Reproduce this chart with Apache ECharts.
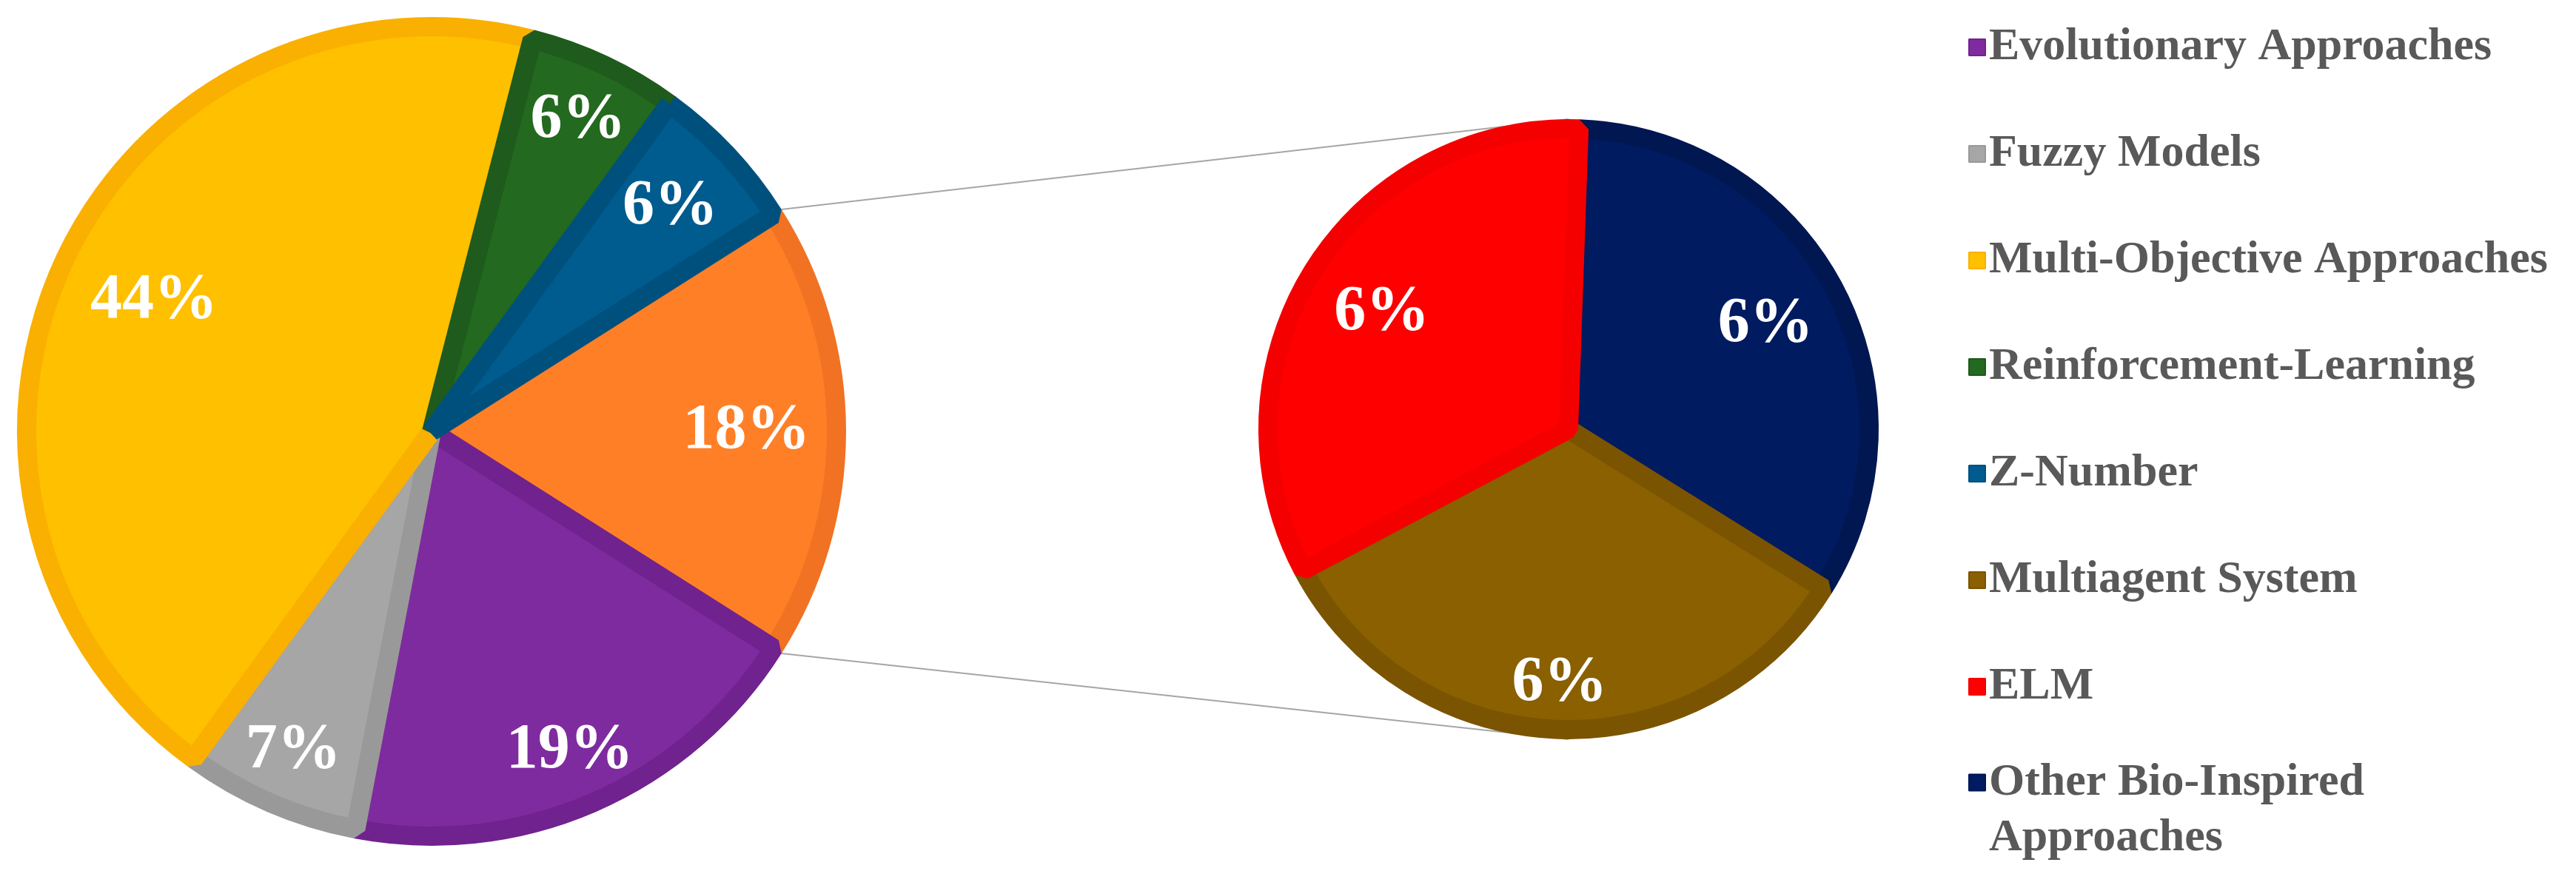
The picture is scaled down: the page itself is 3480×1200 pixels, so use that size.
<!DOCTYPE html>
<html>
<head>
<meta charset="utf-8">
<script src="https://cdn.jsdelivr.net/npm/echarts@6/dist/echarts.min.js"></script>
<style>
  html, body { margin: 0; padding: 0; background: #fff; }
  #chart { width: 3480px; height: 1200px; }
</style>
</head>
<body>
<div id="chart"></div>
<script>
// main pie: "Other" is the slice split out into the second pie
const mainNames = ["Other", "Evolutionary Approaches", "Fuzzy Models", "Multi-Objective Approaches", "Reinforcement-Learning", "Z-Number"];
const mainValues = [18, 19, 7, 44, 6, 6];

const subNames = ["Other Bio-Inspired Approaches", "Multiagent System", "ELM"];
const subValues = [6, 6, 6];

const legendNames = ["Evolutionary Approaches", "Fuzzy Models", "Multi-Objective Approaches", "Reinforcement-Learning", "Z-Number", "Multiagent System", "ELM"];
const lastLegendName = "Other Bio-Inspired Approaches";

const fills = {
  "Other": "#FF7F27",
  "Evolutionary Approaches": "#7F2BA0",
  "Fuzzy Models": "#A6A6A6",
  "Multi-Objective Approaches": "#FFC000",
  "Reinforcement-Learning": "#23691F",
  "Z-Number": "#005B8F",
  "Multiagent System": "#8A6000",
  "ELM": "#FF0000",
  "Other Bio-Inspired Approaches": "#001B60",
};
const borders = {
  "Other": "#F07222",
  "Evolutionary Approaches": "#70228F",
  "Fuzzy Models": "#999999",
  "Multi-Objective Approaches": "#FAB000",
  "Reinforcement-Learning": "#1E5B1C",
  "Z-Number": "#00507E",
  "Multiagent System": "#7A5400",
  "ELM": "#F50000",
  "Other Bio-Inspired Approaches": "#001752",
};

// where each percentage sits, as a fraction of the radius (Excel "best fit")
const mainLabelR = [0.76, 0.84, 0.84, 0.74, 0.83, 0.79];
const subLabelR = [0.72, 0.82, 0.71];

const C1 = [583, 583], R1 = 560;
const C2 = [2119, 580], R2 = 419;
const BW = 26;

const total = mainValues.reduce((a, b) => a + b, 0);
const mainStart = (mainValues[0] / total) * 360 / 2;
const subStart = 88;

// mid angle (deg) of every slice, clockwise from startAngle
function midAngles(values, start) {
  const sum = values.reduce((a, b) => a + b, 0);
  let acc = start;
  return values.map((v) => {
    const span = (v / sum) * 360;
    const mid = acc - span / 2;
    acc -= span;
    return mid;
  });
}
const mainMid = midAngles(mainValues, mainStart);
const subMid = midAngles(subValues, subStart);

const placeLabel = (center, r, mids, fracs) => (params) => {
  const t = (mids[params.dataIndex] * Math.PI) / 180;
  const f = fracs[params.dataIndex];
  return { x: center[0] + f * r * Math.cos(t), y: center[1] - f * r * Math.sin(t) };
};

const labelFont = {
  fontFamily: "Liberation Serif",
  fontWeight: "bold",
  fontSize: 86,
  color: "#FFFFFF",
};
const legendFont = {
  fontFamily: "Liberation Serif",
  fontWeight: "bold",
  fontSize: 62,
  color: "#595959",
};

const toData = (names, values) =>
  names.map((n, i) => ({
    name: n,
    value: values[i],
    itemStyle: { color: fills[n], borderColor: borders[n] },
  }));

const pieBase = {
  type: "pie",
  clockwise: true,
  avoidLabelOverlap: false,
  labelLine: { show: false },
  emphasis: { disabled: true },
  animation: false,
  itemStyle: { borderWidth: BW, borderJoin: "bevel" },
  label: { show: true, position: "inside", formatter: "{c}%", align: "center", verticalAlign: "middle", ...labelFont },
};

// connector lines from the split slice to the top/bottom of the second pie
const a = (mainStart * Math.PI) / 180;
const p1 = [C1[0] + R1 * Math.cos(a), C1[1] - R1 * Math.sin(a)];
const p2 = [C1[0] + R1 * Math.cos(a), C1[1] + R1 * Math.sin(a)];

const chart = echarts.init(document.getElementById("chart"));
chart.setOption({
  backgroundColor: "#FFFFFF",
  legend: [
    {
      data: legendNames,
      orient: "vertical",
      left: 2659,
      top: 33,
      padding: 0,
      itemWidth: 22,
      itemHeight: 22,
      itemGap: 82,
      icon: "rect",
      selectedMode: false,
      textStyle: { ...legendFont, lineHeight: 60 },
    },
    {
      data: [lastLegendName],
      orient: "vertical",
      left: 2659,
      top: 1057 - 112,
      padding: 0,
      itemWidth: 22,
      itemHeight: 22,
      icon: "rect",
      selectedMode: false,
      // blank first line keeps the marker level with "Other Bio-Inspired"
      formatter: () => " \nOther Bio-Inspired\nApproaches",
      textStyle: { ...legendFont, lineHeight: 75 },
    },
  ],
  graphic: [
    {
      type: "line",
      z: 0,
      shape: { x1: p1[0], y1: p1[1], x2: C2[0], y2: C2[1] - R2 },
      style: { stroke: "#A6A6A6", lineWidth: 2 },
    },
    {
      type: "line",
      z: 0,
      shape: { x1: p2[0], y1: p2[1], x2: C2[0], y2: C2[1] + R2 },
      style: { stroke: "#A6A6A6", lineWidth: 2 },
    },
  ],
  series: [
    {
      ...pieBase,
      name: "main",
      center: C1,
      radius: [0, R1 - BW / 2],
      startAngle: mainStart,
      labelLayout: placeLabel(C1, R1, mainMid, mainLabelR),
      data: toData(mainNames, mainValues),
    },
    {
      ...pieBase,
      name: "sub",
      center: C2,
      radius: [0, R2 - BW / 2],
      startAngle: subStart,
      labelLayout: placeLabel(C2, R2, subMid, subLabelR),
      data: toData(subNames, subValues),
    },
  ],
});
</script>
</body>
</html>
